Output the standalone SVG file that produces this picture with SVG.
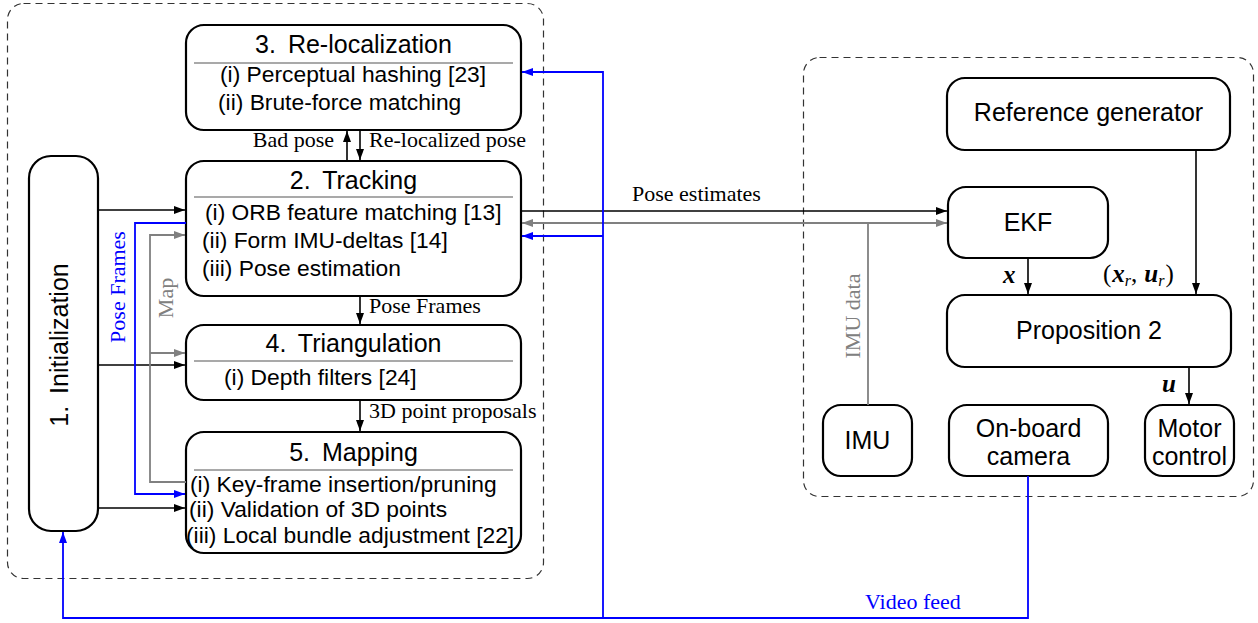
<svg xmlns="http://www.w3.org/2000/svg" width="1258" height="623" viewBox="0 0 1258 623">
<defs>
<marker id="ak" markerUnits="userSpaceOnUse" markerWidth="12" markerHeight="8" refX="11" refY="4" orient="auto-start-reverse"><path d="M0,0 L11,4 L0,8 z" fill="#000"/></marker>
<marker id="ag" markerUnits="userSpaceOnUse" markerWidth="12" markerHeight="8" refX="11" refY="4" orient="auto-start-reverse"><path d="M0,0 L11,4 L0,8 z" fill="#808080"/></marker>
<marker id="ab" markerUnits="userSpaceOnUse" markerWidth="12" markerHeight="8" refX="11" refY="4" orient="auto-start-reverse"><path d="M0,0 L11,4 L0,8 z" fill="#0000ff"/></marker>
</defs>
<style>
.box{fill:#fff;stroke:#000;stroke-width:2.2}
.cont{fill:none;stroke:#333;stroke-width:1.2;stroke-dasharray:7 5}
.sep{stroke:#555;stroke-width:1.2}
.t{font-family:"Liberation Sans",Arial,sans-serif;font-size:25px;fill:#000}
.i{font-family:"Liberation Sans",Arial,sans-serif;font-size:22.8px;fill:#000}
.l{font-family:"Liberation Serif","Times New Roman",serif;font-size:22px;fill:#000}
.m{font-family:"Liberation Serif","Times New Roman",serif;font-size:25px;fill:#000}
.k{fill:none;stroke:#000;stroke-width:1.6}
.g{fill:none;stroke:#808080;stroke-width:1.8}
.b{fill:none;stroke:#0000ff;stroke-width:1.8}
</style>
<g id="containers">
<rect class="cont" x="7.5" y="3.5" width="536" height="575" rx="16"/>
<rect class="cont" x="803.5" y="57.5" width="450" height="439" rx="16"/>
</g>
<g id="init">
<rect class="box" x="29" y="156" width="69" height="375" rx="22"/>
<text class="t" transform="translate(68,345) rotate(-90)" text-anchor="middle">1.<tspan dx="5"> Initialization</tspan></text>
</g>
<g id="reloc">
<rect class="box" x="186" y="25" width="335" height="105" rx="18"/>
<text class="t" x="353.5" y="53" text-anchor="middle">3.<tspan dx="5"> Re-localization</tspan></text>
<line class="sep" x1="194" y1="63" x2="513" y2="63"/>
<text class="i" x="220" y="82">(i) Perceptual hashing [23]</text>
<text class="i" x="218" y="110">(ii) Brute-force matching</text>
</g>
<g id="tracking">
<rect class="box" x="186" y="161" width="335" height="135" rx="18"/>
<text class="t" x="353.5" y="189" text-anchor="middle">2.<tspan dx="5"> Tracking</tspan></text>
<line class="sep" x1="194" y1="197" x2="513" y2="197"/>
<text class="i" x="205" y="220">(i) ORB feature matching [13]</text>
<text class="i" x="202" y="248">(ii) Form IMU-deltas [14]</text>
<text class="i" x="202" y="276">(iii) Pose estimation</text>
</g>
<g id="triangulation">
<rect class="box" x="186" y="325" width="335" height="75" rx="18"/>
<text class="t" x="353.5" y="352" text-anchor="middle">4.<tspan dx="5"> Triangulation</tspan></text>
<line class="sep" x1="194" y1="361" x2="513" y2="361"/>
<text class="i" x="224" y="385">(i) Depth filters [24]</text>
</g>
<g id="mapping">
<rect class="box" x="186" y="432" width="335" height="121" rx="18"/>
<text class="t" x="353.5" y="461" text-anchor="middle">5.<tspan dx="5"> Mapping</tspan></text>
<line class="sep" x1="194" y1="470" x2="513" y2="470"/>
<text class="i" x="190" y="492">(i) Key-frame insertion/pruning</text>
<text class="i" x="189" y="517">(ii) Validation of 3D points</text>
<text class="i" x="186" y="543">(iii) Local bundle adjustment [22]</text>
</g>
<g id="refgen">
<rect class="box" x="947" y="78" width="283" height="72" rx="18"/>
<text class="t" x="1088.5" y="121" text-anchor="middle">Reference generator</text>
</g>
<g id="ekf">
<rect class="box" x="948" y="187" width="160" height="71" rx="18"/>
<text class="t" x="1028" y="231" text-anchor="middle">EKF</text>
</g>
<g id="prop2">
<rect class="box" x="947" y="295" width="284" height="72" rx="18"/>
<text class="t" x="1089" y="339" text-anchor="middle">Proposition 2</text>
</g>
<g id="imu">
<rect class="box" x="823" y="405" width="89" height="71" rx="18"/>
<text class="t" x="867.5" y="449" text-anchor="middle">IMU</text>
</g>
<g id="camera">
<rect class="box" x="949" y="405" width="159" height="71" rx="18"/>
<text class="t" x="1028.5" y="437" text-anchor="middle">On-board</text>
<text class="t" x="1028.5" y="465" text-anchor="middle">camera</text>
</g>
<g id="motor">
<rect class="box" x="1145" y="405" width="89" height="71" rx="18"/>
<text class="t" x="1189.5" y="437" text-anchor="middle">Motor</text>
<text class="t" x="1189.5" y="465" text-anchor="middle">control</text>
</g>
<g id="connectors">
<path class="k" d="M98,210 H185" marker-end="url(#ak)"/>
<path class="k" d="M98,365 H185" marker-end="url(#ak)"/>
<path class="k" d="M98,508 H185" marker-end="url(#ak)"/>
<path class="k" d="M347,161 V131" marker-end="url(#ak)"/>
<path class="k" d="M360,130 V160" marker-end="url(#ak)"/>
<path class="k" d="M360,296 V324" marker-end="url(#ak)"/>
<path class="k" d="M360,400 V431" marker-end="url(#ak)"/>
<path class="k" d="M521,211 H947" marker-end="url(#ak)"/>
<path class="g" d="M522,223 H947" marker-start="url(#ag)" marker-end="url(#ag)"/>
<path class="g" d="M868,405 V223"/>
<path class="g" d="M186,482 H150 V235 H185" marker-end="url(#ag)"/>
<path class="g" d="M150,353 H185" marker-end="url(#ag)"/>
<path class="b" d="M186,223 H135 V494 H185" marker-end="url(#ab)"/>
<path class="b" d="M1028,476 V618 H63 V532" marker-end="url(#ab)"/>
<path class="b" d="M603,618 V72 H522" marker-end="url(#ab)"/>
<path class="b" d="M603,236 H522" marker-end="url(#ab)"/>
<path class="k" d="M1028,258 V294" marker-end="url(#ak)"/>
<path class="k" d="M1196,150 V294" marker-end="url(#ak)"/>
<path class="k" d="M1189,367 V404" marker-end="url(#ak)"/>
<text class="l" x="334" y="147" text-anchor="end">Bad pose</text>
<text class="l" x="369" y="147">Re-localized pose</text>
<text class="l" x="369" y="313">Pose Frames</text>
<text class="l" x="369" y="418">3D point proposals</text>
<text class="l" x="632" y="201">Pose estimates</text>
<text class="l" x="865" y="609" style="fill:#0000ff">Video feed</text>
<text class="l" transform="translate(125,287) rotate(-90)" text-anchor="middle" style="fill:#0000ff">Pose Frames</text>
<text class="l" transform="translate(173,298) rotate(-90)" text-anchor="middle" style="fill:#808080">Map</text>
<text class="l" transform="translate(860,316) rotate(-90)" text-anchor="middle" style="fill:#808080">IMU data</text>
<text class="m" x="1003" y="283" font-weight="bold" font-style="italic">x</text>
<text class="m" x="1162" y="392" font-weight="bold" font-style="italic">u</text>
<text class="m" x="1103" y="282">(<tspan dx="1" font-weight="bold" font-style="italic">x</tspan><tspan font-style="italic" font-size="16" dy="4">r</tspan><tspan dy="-4">,</tspan><tspan dx="7" font-weight="bold" font-style="italic">u</tspan><tspan font-style="italic" font-size="16" dy="4">r</tspan><tspan dx="1" dy="-4">)</tspan></text>
</g>
</svg>
